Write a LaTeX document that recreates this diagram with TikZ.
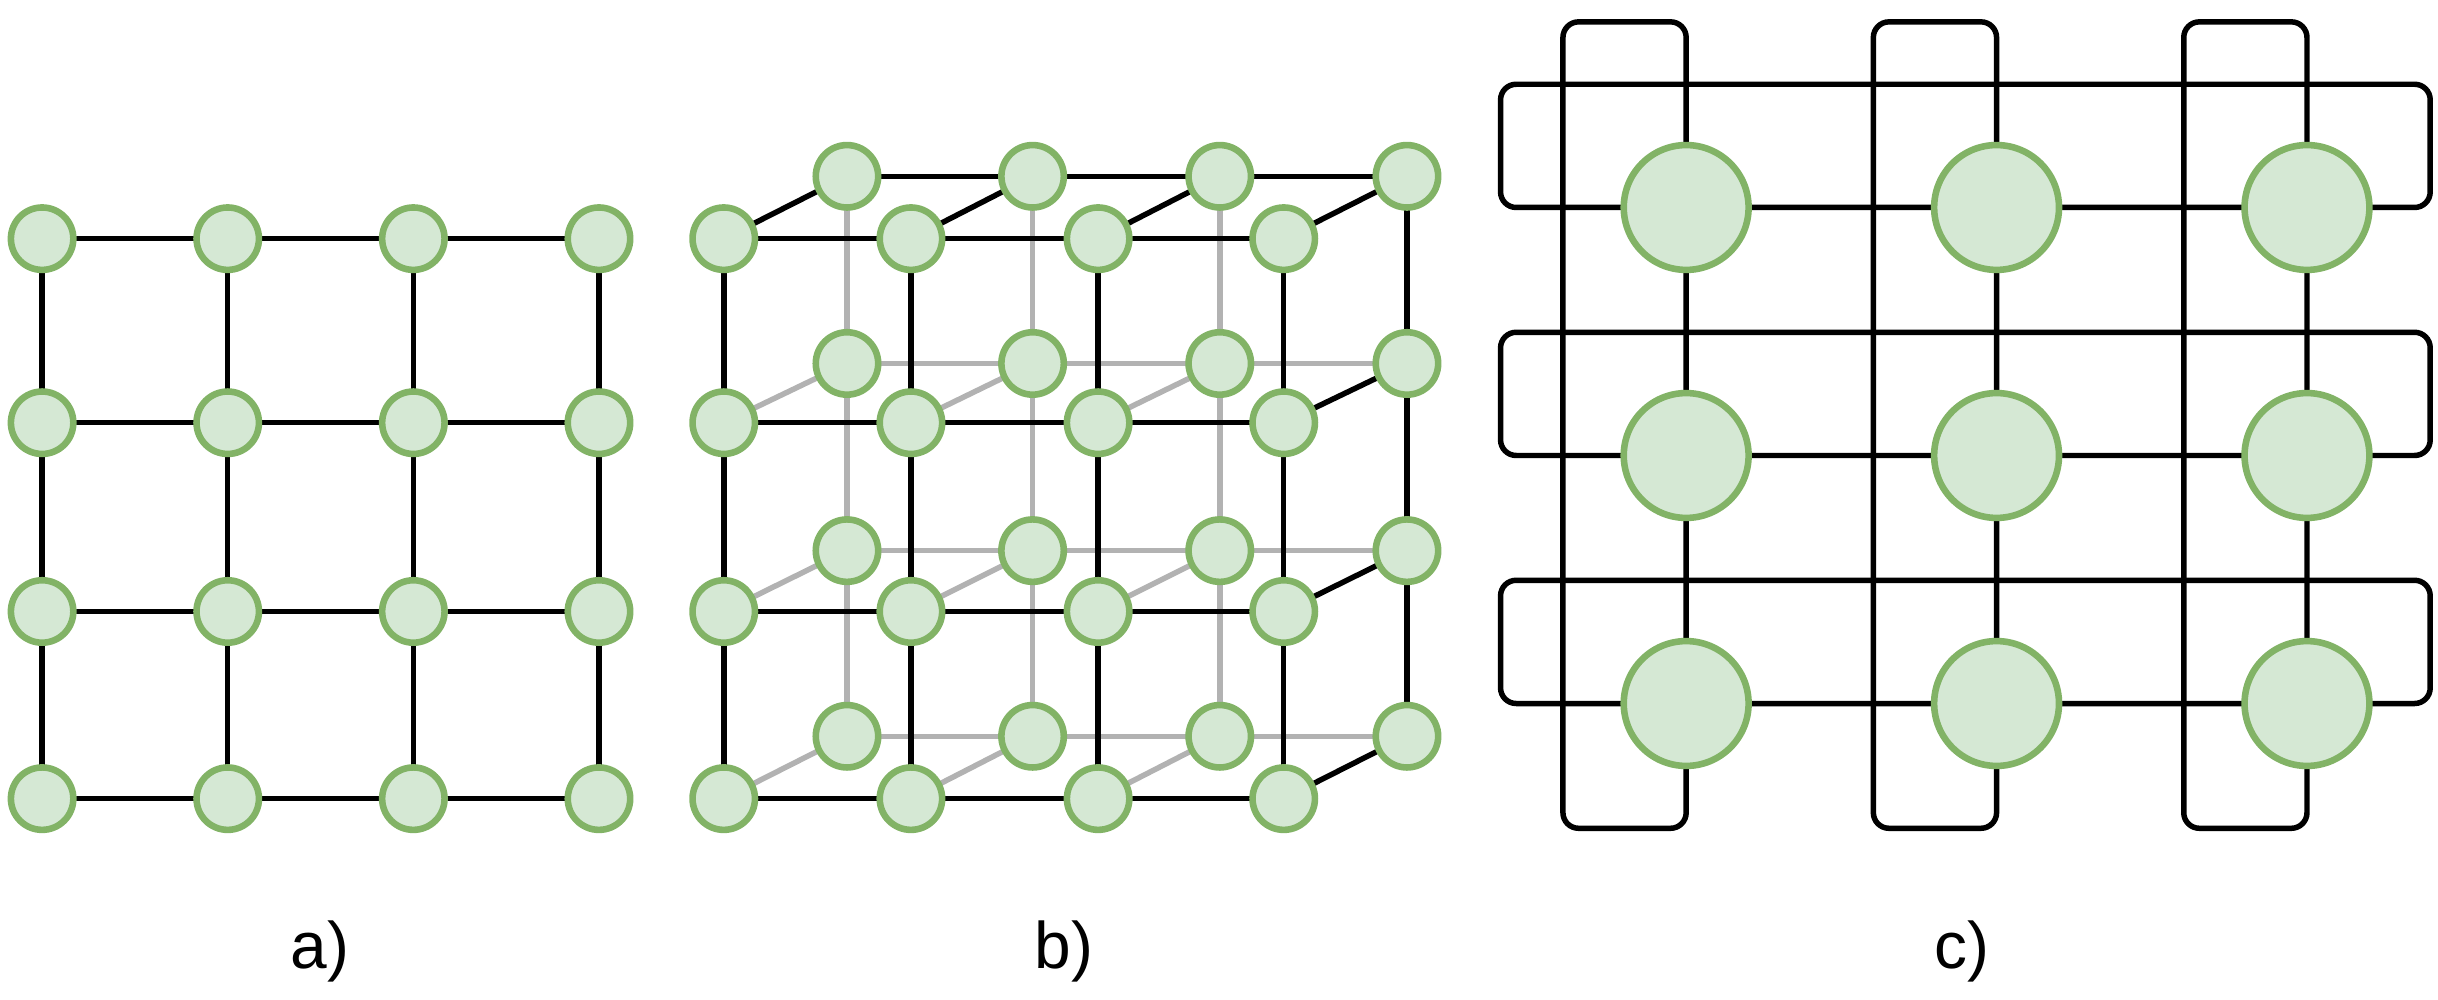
\documentclass[tikz,border=0pt]{standalone}
\usepackage{fontspec}
\setmainfont{Liberation Sans}
\begin{document}
\begin{tikzpicture}[
        x=0.01cm, y=-0.01cm,
        dot/.style={circle, draw=green!40!black!50!green!60!black, fill=nodefill, line width=1.2pt, minimum size=0.4cm, inner sep=0pt},
        bigdot/.style={dot, minimum size=0.8cm},
        edge/.style={line width=1pt, black},
        backedge/.style={line width=1pt, black!30},
        loopbox/.style={line width=1pt, black, rounded corners=0.1cm},
        caption/.style={font=\fontsize{12}{14}\selectfont}
    ]
        \definecolor{nodefill}{HTML}{D5E8D4}
        \definecolor{nodeline}{HTML}{82B366}
        \tikzset{dot/.append style={draw=nodeline}}
        \useasboundingbox (0,0) rectangle (1563,641);

        % a) 2D mesh
        \foreach \i/\x in {1/27, 2/146, 3/265, 4/384}
            \foreach \j/\y in {1/153, 2/271, 3/392, 4/512}
                \coordinate (a\i\j) at (\x,\y);
        \foreach \i in {1,...,4} {
            \foreach \j [evaluate=\j as \k using int(\j+1)] in {1,2,3} {
                \draw[edge] (a\i\j) -- (a\i\k);
                \draw[edge] (a\j\i) -- (a\k\i);
            }
        }
        \foreach \i in {1,...,4}
            \foreach \j in {1,...,4}
                \node[dot] (na\i\j) at (a\i\j) {};

        % b) 3D mesh
        \foreach \i/\x in {1/464, 2/584, 3/704, 4/823}
            \foreach \j/\y in {1/153, 2/271, 3/392, 4/512}
                \coordinate (f\i\j) at (\x,\y);
        \foreach \i/\x in {1/543, 2/662, 3/782, 4/902}
            \foreach \j/\y in {1/113, 2/233, 3/353, 4/472}
                \coordinate (k\i\j) at (\x,\y);
        % hidden edges
        \foreach \i in {1,2,3}
            \foreach \j in {2,3,4}
                \draw[backedge] (f\i\j) -- (k\i\j);
        \foreach \j in {2,3,4}
            \draw[backedge] (k1\j) -- (k4\j);
        \foreach \i in {1,2,3}
            \draw[backedge] (k\i1) -- (k\i4);
        % visible edges
        \draw[edge] (k11) -- (k41) -- (k44);
        \foreach \i in {1,...,4}
            \draw[edge] (f\i1) -- (k\i1);
        \foreach \j in {2,3,4}
            \draw[edge] (f4\j) -- (k4\j);
        \foreach \i in {1,...,4} {
            \draw[edge] (f\i1) -- (f\i4);
            \draw[edge] (f1\i) -- (f4\i);
        }
        \foreach \i in {1,...,4}
            \foreach \j in {1,...,4}
                \node[dot] (nk\i\j) at (k\i\j) {};
        \foreach \i in {1,...,4}
            \foreach \j in {1,...,4}
                \node[dot] (nf\i\j) at (f\i\j) {};

        % c) loops
        \foreach \x in {1002, 1201, 1400}
            \draw[loopbox] (\x,14) rectangle ++(79,517);
        \foreach \y in {54, 213, 372}
            \draw[loopbox] (962,\y) rectangle ++(596,79);
        \foreach \i/\x in {1/1081, 2/1280, 3/1479}
            \foreach \j/\y in {1/133, 2/292, 3/451}
                \node[bigdot] (c\i\j) at (\x,\y) {};

        \node[caption] (capa) at (205,610) {a)};
        \node[caption] (capb) at (682,610) {b)};
        \node[caption] (capc) at (1258,610) {c)};
    \end{tikzpicture}
\end{document}
